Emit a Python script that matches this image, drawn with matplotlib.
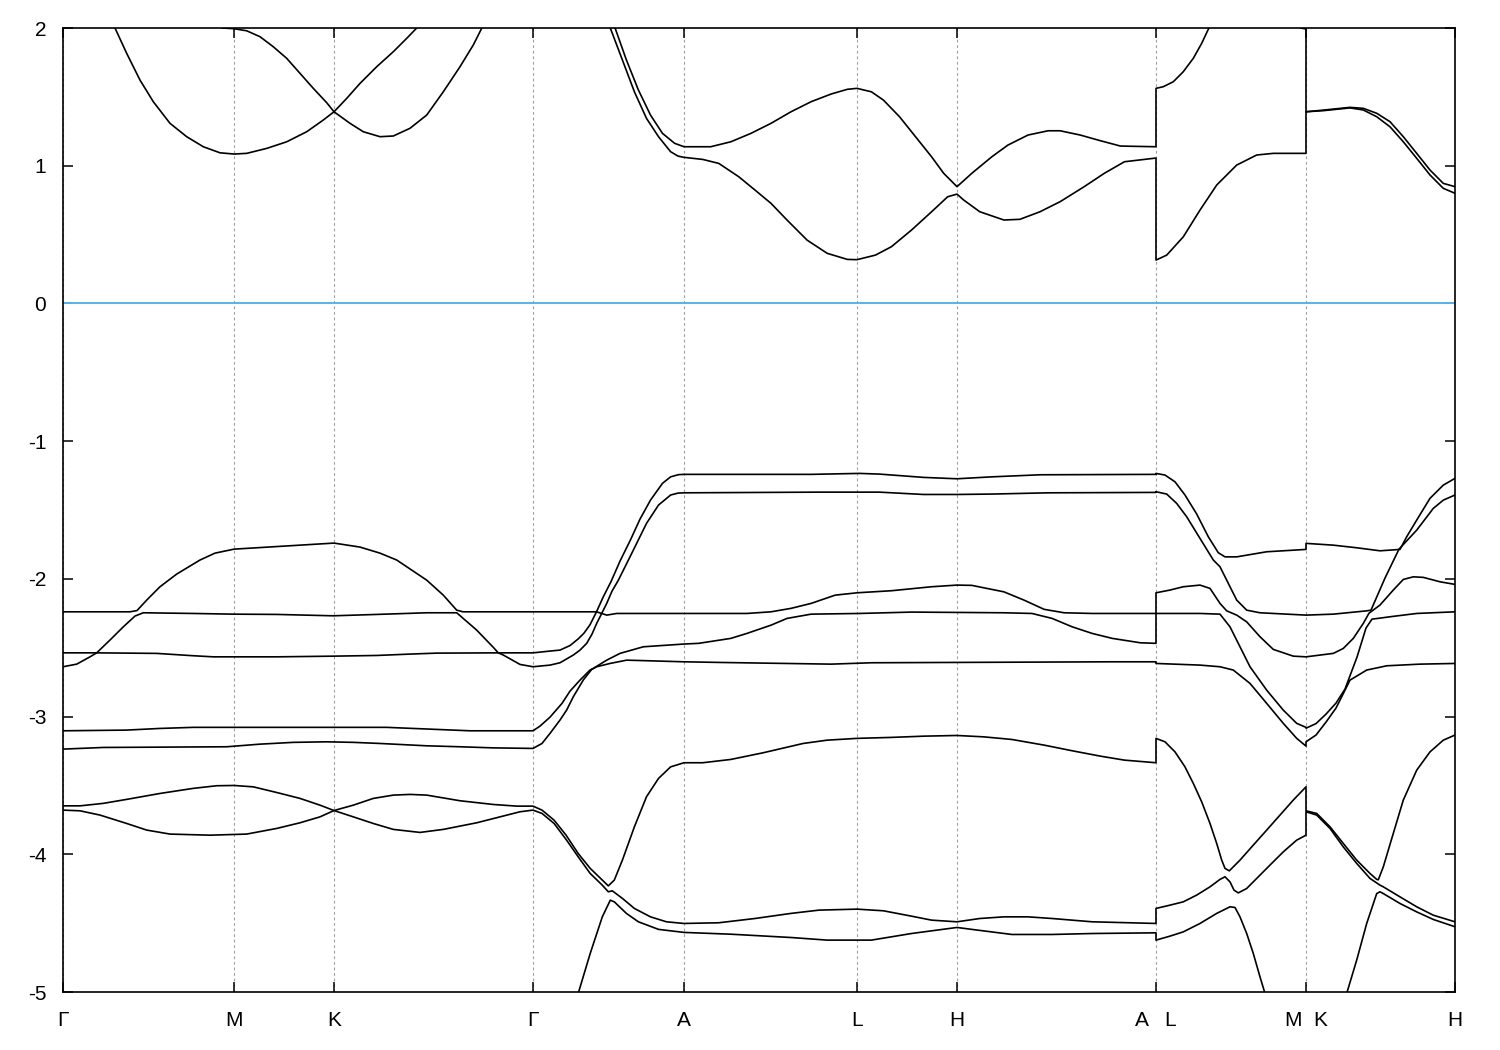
import numpy as np
import matplotlib
matplotlib.use('Agg')
import matplotlib.pyplot as plt

nan = np.nan

# high-symmetry points along the k-path (path length, arbitrary units)
sym_k = [0.0, 1.71, 2.71, 4.70, 6.21, 7.94, 8.94, 10.93, 12.43, 13.92]
sym_labels = ['Γ', 'M', 'K', 'Γ', 'A', 'L', 'H', 'A   L', 'M  K', 'H']

# conduction bands (eV)
c1_k = [0.45, 0.52, 0.637, 0.77, 0.903, 1.07, 1.237, 1.403, 1.57, 1.71, 1.837, 2.037, 2.237, 2.437, 2.603, 2.71,
        2.87, 3.003, 3.17, 3.303, 3.47, 3.637, 3.803, 3.97, 4.103, 4.187, 4.25, nan,
        5.42, 5.473, 5.594, 5.714, 5.835, 5.955, 6.076, 6.15, 6.21,
        6.397, 6.558, 6.758, 6.919, 7.08, 7.24, 7.441, 7.642, 7.843, 7.94, 8.124, 8.284, 8.485, 8.686, 8.847, 8.94,
        9.007, 9.168, 9.409, 9.569, 9.77, 9.971, 10.212, 10.413, 10.614, 10.93,
        10.93, 11.037, 11.203, 11.37, 11.537, 11.737, 11.937, 12.103, 12.43,
        12.43, 12.603, 12.87, 13.003, 13.137, 13.27, 13.403, 13.537, 13.67, 13.803, 13.92]
c1_e = [2.1, 2.0, 1.816, 1.622, 1.465, 1.308, 1.211, 1.138, 1.094, 1.085, 1.090, 1.126, 1.174, 1.247, 1.332, 1.392,
        1.308, 1.247, 1.211, 1.216, 1.272, 1.368, 1.537, 1.719, 1.877, 1.998, 2.1, nan,
        2.1, 2.0, 1.768, 1.537, 1.344, 1.211, 1.102, 1.07, 1.061,
        1.046, 1.017, 0.920, 0.824, 0.727, 0.606, 0.460, 0.364, 0.320, 0.318, 0.351, 0.412, 0.533, 0.666, 0.775, 0.794,
        0.751, 0.666, 0.606, 0.611, 0.666, 0.739, 0.848, 0.945, 1.029, 1.056,
        0.315, 0.351, 0.484, 0.678, 0.860, 1.005, 1.078, 1.090, 1.090,
        1.392, 1.400, 1.420, 1.405, 1.356, 1.283, 1.174, 1.054, 0.933, 0.836, 0.800]

c2_k = [1.45, 1.6, 1.71, 1.837, 1.97, 2.103, 2.237, 2.37, 2.503, 2.637, 2.71, 2.837, 2.97, 3.137, 3.303, 3.437,
        3.537, 3.6, nan,
        5.47, 5.521, 5.634, 5.754, 5.875, 5.995, 6.116, 6.21,
        6.477, 6.678, 6.879, 7.08, 7.28, 7.481, 7.682, 7.843, 7.94, 8.084, 8.204, 8.365, 8.525, 8.686, 8.807, 8.94,
        9.088, 9.288, 9.449, 9.65, 9.851, 9.971, 10.172, 10.373, 10.574, 10.93,
        10.93, 11.003, 11.103, 11.203, 11.303, 11.387, 11.453, 11.52, nan, 12.3, 12.38, 12.43,
        12.43, 12.603, 12.87, 13.003, 13.137, 13.27, 13.403, 13.537, 13.67, 13.803, 13.92]
c2_e = [2.05, 2.0, 1.995, 1.980, 1.937, 1.864, 1.780, 1.671, 1.562, 1.458, 1.392, 1.489, 1.598, 1.719, 1.828, 1.925,
        2.0, 2.06, nan,
        2.1, 2.0, 1.768, 1.55, 1.368, 1.235, 1.163, 1.138,
        1.138, 1.174, 1.235, 1.308, 1.392, 1.465, 1.521, 1.555, 1.562, 1.537, 1.477, 1.356, 1.211, 1.065, 0.945, 0.848,
        0.945, 1.065, 1.150, 1.223, 1.254, 1.254, 1.223, 1.182, 1.143, 1.138,
        1.562, 1.574, 1.610, 1.683, 1.780, 1.889, 1.991, 2.08, nan, 2.03, 2.0, 1.993,
        1.392, 1.404, 1.424, 1.417, 1.381, 1.320, 1.211, 1.090, 0.969, 0.872, 0.848]

# valence bands (eV), sorted from the top
v1_k = [0.0, 0.67, 0.74, 0.837, 0.97, 1.137, 1.37, 1.52, 1.71, 2.21, 2.71, 2.97, 3.17, 3.337, 3.637, 3.803, 3.937,
        4.0, 4.70,
        5.32, 5.335, 5.403, 5.48, 5.57, 5.674, 5.77, 5.875, 5.995, 6.076, 6.156, 6.21,
        7.481, 7.963, 8.164, 8.606, 8.94, 9.288, 9.77, 10.93,
        10.93, 11.02, 11.12, 11.22, 11.337, 11.453, 11.553, 11.62, 11.737, 12.037, 12.43,
        12.43, 12.703, 12.937, 13.17, 13.37, 13.437, 13.537, 13.67, 13.803, 13.92]
v1_e = [-2.239, -2.239, -2.230, -2.154, -2.057, -1.965, -1.863, -1.813, -1.784, -1.762, -1.740, -1.769, -1.813,
        -1.863, -2.009, -2.118, -2.227, -2.239, -2.239,
        -2.239, -2.239, -2.130, -2.020, -1.871, -1.718, -1.566, -1.428, -1.306, -1.259, -1.243, -1.241,
        -1.241, -1.234, -1.239, -1.263, -1.273, -1.259, -1.244, -1.241,
        -1.234, -1.246, -1.295, -1.391, -1.529, -1.694, -1.810, -1.840, -1.840, -1.803, -1.786,
        -1.742, -1.755, -1.774, -1.796, -1.786, -1.694, -1.573, -1.415, -1.319, -1.270]

v2_k = [0.0, 0.337, 0.47, 0.603, 0.72, 0.803, 1.303, 1.703, 2.137, 2.703, 3.137, 3.637, 3.937, 4.137, 4.303, 4.353,
        4.70,
        4.87, 4.97, 5.07, 5.15, 5.21, 5.27, 5.335, 5.387, 5.437, 5.49, 5.554, 5.674, 5.835, 5.955, 6.076, 6.15, 6.21,
        7.562, 8.164, 8.606, 8.94, 9.288, 9.851, 10.93,
        10.93, 11.037, 11.137, 11.237, 11.37, 11.503, 11.57, 11.67, 11.737, 11.837, 11.97, 12.43,
        12.43, 12.703, 13.037, 13.08, 13.22, 13.36, 13.537, 13.703, 13.803, 13.92]
v2_e = [-2.537, -2.537, -2.444, -2.348, -2.270, -2.246, -2.251, -2.256, -2.258, -2.268, -2.258, -2.246, -2.246,
        -2.372, -2.497, -2.537, -2.537,
        -2.524, -2.517, -2.484, -2.437, -2.394, -2.333, -2.239, -2.251, -2.178, -2.089, -2.009, -1.834, -1.597,
        -1.464, -1.391, -1.377, -1.375,
        -1.370, -1.370, -1.387, -1.387, -1.384, -1.375, -1.372,
        -1.367, -1.384, -1.452, -1.549, -1.706, -1.863, -1.912, -2.057, -2.154, -2.227, -2.246, -2.263,
        -2.263, -2.256, -2.232, -2.227, -1.994, -1.784, -1.646, -1.488, -1.428, -1.391]

v3_k = [0.0, 0.137, 0.27, 0.337, 0.937, 1.303, 1.503, 2.137, 2.703, 3.137, 3.47, 3.737, 4.353, 4.403, 4.57, 4.70,
        4.87, 4.97, 5.103, 5.17, 5.237, 5.29, 5.337, 5.387, 5.437, 5.537, 6.21,
        6.839, 7.08, 7.28, 7.481, 7.722, 7.94, 8.284, 8.686, 8.94, 9.088, 9.409, 9.61, 9.811, 10.011, 10.292, 10.93,
        10.93, 11.07, 11.203, 11.37, 11.47, 11.57, 11.637, 11.737, 11.837, 11.97, 12.103, 12.303, 12.43,
        12.43, 12.703, 12.803, 12.903, 13.003, 13.06, 13.17, 13.303, 13.403, 13.503, 13.603, 13.77, 13.92]
v3_e = [-2.638, -2.619, -2.566, -2.537, -2.541, -2.558, -2.566, -2.566, -2.561, -2.556, -2.546, -2.539, -2.537,
        -2.553, -2.621, -2.638,
        -2.626, -2.609, -2.553, -2.517, -2.468, -2.401, -2.323, -2.251, -2.263, -2.251, -2.251,
        -2.251, -2.239, -2.214, -2.178, -2.118, -2.101, -2.086, -2.057, -2.045, -2.047, -2.094, -2.154, -2.221,
        -2.246, -2.251, -2.251,
        -2.101, -2.081, -2.057, -2.045, -2.069, -2.178, -2.232, -2.263, -2.312, -2.420, -2.512, -2.561, -2.566,
        -2.566, -2.541, -2.505, -2.432, -2.323, -2.249, -2.190, -2.081, -2.004, -1.985, -1.989, -2.021, -2.040]

v4_k = [0.0, 0.633, 0.967, 1.303, 2.703, 3.237, 3.637, 4.07, 4.70,
        4.77, 4.87, 4.99, 5.07, 5.17, 5.27, 5.303, 5.437, 5.57, 5.803, 6.21,
        6.357, 6.678, 6.839, 7.08, 7.24, 7.481, 7.963, 8.485, 9.409, 9.69, 9.891, 10.092, 10.292, 10.493, 10.774,
        10.93,
        10.93, 11.37, 11.57, 11.67, 11.77, 11.87, 12.037, 12.203, 12.337, 12.43,
        12.43, 12.53, 12.63, 12.73, 12.82, 12.94, 13.03, 13.09, 13.17, 13.27, 13.537, 13.92]
v4_e = [-3.103, -3.098, -3.086, -3.078, -3.078, -3.078, -3.090, -3.103, -3.103,
        -3.069, -3.004, -2.904, -2.815, -2.735, -2.662, -2.650, -2.590, -2.541, -2.493, -2.473,
        -2.468, -2.432, -2.396, -2.336, -2.287, -2.256, -2.251, -2.241, -2.246, -2.251, -2.287, -2.348, -2.396,
        -2.432, -2.464, -2.468,
        -2.251, -2.251, -2.256, -2.348, -2.493, -2.638, -2.808, -2.953, -3.049, -3.078,
        -3.084, -3.051, -2.982, -2.902, -2.800, -2.568, -2.357, -2.292, -2.285, -2.275, -2.251, -2.239]

v5_k = [0.0, 0.403, 1.637, 1.97, 2.303, 2.637, 2.903, 3.17, 3.637, 3.97, 4.303, 4.70,
        4.79, 4.87, 4.97, 5.037, 5.103, 5.203, 5.287, 5.337, 5.47, 5.637, 6.21,
        6.598, 7.682, 8.084, 10.493, 10.93,
        10.93, 11.37, 11.57, 11.703, 11.87, 12.037, 12.203, 12.337, 12.43,
        12.43, 12.53, 12.63, 12.73, 12.82, 12.87, 13.037, 13.237, 13.57, 13.92]
v5_e = [-3.236, -3.224, -3.219, -3.200, -3.187, -3.183, -3.187, -3.195, -3.212, -3.219, -3.227, -3.231,
        -3.195, -3.122, -3.025, -2.952, -2.856, -2.734, -2.657, -2.638, -2.614, -2.590, -2.602,
        -2.607, -2.619, -2.609, -2.602, -2.602,
        -2.614, -2.626, -2.638, -2.662, -2.759, -2.904, -3.049, -3.158, -3.214,
        -3.183, -3.134, -3.040, -2.938, -2.808, -2.735, -2.662, -2.631, -2.619, -2.614]

v6_k = [0.0, 0.17, 0.403, 0.637, 0.97, 1.303, 1.537, 1.71, 1.903, 2.137, 2.37, 2.57, 2.71, 2.903, 3.103, 3.303,
        3.47, 3.637, 3.97, 4.303, 4.537, 4.70,
        4.79, 4.911, 5.031, 5.152, 5.272, 5.393, 5.453, 5.513, 5.594, 5.714, 5.835, 5.955, 6.076, 6.21,
        6.397, 6.678, 6.999, 7.401, 7.642, 7.94, 8.284, 8.606, 8.94, 9.208, 9.489, 9.811, 10.092, 10.373, 10.614,
        10.93,
        10.93, 11.02, 11.12, 11.22, 11.303, 11.387, 11.47, 11.537, 11.587, 11.62, 11.663, 11.77, 11.903, 12.037,
        12.17, 12.303, 12.43,
        12.43, 12.537, 12.67, 12.803, 12.937, 13.07, 13.137, 13.153, 13.203, 13.303, 13.403, 13.537, 13.67, 13.803,
        13.92]
v6_e = [-3.648, -3.648, -3.630, -3.601, -3.558, -3.521, -3.502, -3.500, -3.510, -3.551, -3.594, -3.643, -3.682,
        -3.643, -3.594, -3.570, -3.565, -3.570, -3.611, -3.638, -3.650, -3.650,
        -3.679, -3.752, -3.861, -3.994, -4.102, -4.187, -4.229, -4.187, -4.042, -3.800, -3.582, -3.449, -3.365,
        -3.335,
        -3.335, -3.311, -3.263, -3.195, -3.171, -3.158, -3.151, -3.142, -3.137, -3.147, -3.166, -3.207, -3.248,
        -3.287, -3.316, -3.335,
        -3.158, -3.183, -3.256, -3.365, -3.485, -3.619, -3.776, -3.921, -4.042, -4.102, -4.120, -4.042, -3.933,
        -3.824, -3.715, -3.606, -3.510,
        -3.684, -3.703, -3.800, -3.921, -4.042, -4.139, -4.182, -4.185, -4.091, -3.848, -3.606, -3.389, -3.256,
        -3.171, -3.134]

v7_k = [0.0, 0.17, 0.37, 0.637, 0.837, 1.07, 1.47, 1.837, 2.137, 2.37, 2.57, 2.71, 2.903, 3.103, 3.303, 3.57,
        3.803, 4.137, 4.37, 4.57, 4.70,
        4.79, 4.911, 5.031, 5.152, 5.272, 5.393, 5.453, 5.493, 5.594, 5.714, 5.875, 6.035, 6.21,
        6.558, 6.919, 7.28, 7.562, 7.94, 8.204, 8.485, 8.686, 8.94, 9.168, 9.409, 9.65, 9.891, 10.292, 10.93,
        10.93, 11.07, 11.203, 11.337, 11.47, 11.57, 11.62, 11.67, 11.71, 11.753, 11.837, 11.937, 12.07, 12.203,
        12.337, 12.43,
        12.43, 12.537, 12.67, 12.803, 12.937, 13.07, 13.17, 13.203, 13.37, 13.537, 13.703, 13.92]
v7_e = [-3.679, -3.684, -3.715, -3.776, -3.824, -3.853, -3.861, -3.853, -3.812, -3.771, -3.728, -3.682, -3.728,
        -3.776, -3.819, -3.841, -3.819, -3.771, -3.728, -3.691, -3.679,
        -3.703, -3.776, -3.892, -4.018, -4.139, -4.224, -4.272, -4.265, -4.320, -4.393, -4.454, -4.490, -4.502,
        -4.497, -4.466, -4.429, -4.405, -4.398, -4.410, -4.449, -4.478, -4.490, -4.466, -4.454, -4.454, -4.466,
        -4.490, -4.502,
        -4.393, -4.369, -4.345, -4.296, -4.236, -4.182, -4.163, -4.200, -4.260, -4.280, -4.248, -4.175, -4.078,
        -3.982, -3.897, -3.861,
        -3.691, -3.715, -3.812, -3.946, -4.066, -4.175, -4.224, -4.236, -4.309, -4.381, -4.442, -4.490]

v8_k = [5.05, 5.152, 5.272, 5.393, 5.473, 5.513, 5.634, 5.754, 5.955, 6.21,
        6.678, 7.28, 7.642, 8.084, 8.485, 8.94, 9.088, 9.489, 9.891, 10.292, 10.93,
        10.93, 11.07, 11.203, 11.37, 11.537, 11.67, 11.72, 11.77, 11.837, 11.903, 11.97, 12.02, 12.06, nan,
        12.78, 12.837, 12.937, 13.037, 13.137, 13.17, 13.203, 13.37, 13.537, 13.703, 13.92]
v8_e = [-5.25, -5.01, -4.720, -4.454, -4.333, -4.345, -4.429, -4.490, -4.545, -4.567,
        -4.580, -4.604, -4.623, -4.623, -4.575, -4.531, -4.545, -4.582, -4.582, -4.575, -4.570,
        -4.623, -4.594, -4.563, -4.502, -4.429, -4.381, -4.386, -4.454, -4.575, -4.720, -4.890, -5.01, -5.12, nan,
        -5.15, -5.01, -4.768, -4.502, -4.285, -4.272, -4.285, -4.357, -4.418, -4.473, -4.526]

bands = [(c1_k, c1_e), (c2_k, c2_e), (v1_k, v1_e), (v2_k, v2_e), (v3_k, v3_e), (v4_k, v4_e),
         (v5_k, v5_e), (v6_k, v6_e), (v7_k, v7_e), (v8_k, v8_e)]

plt.rcParams['font.family'] = ['Liberation Sans', 'DejaVu Sans']

fig = plt.figure(figsize=(15, 10.5), dpi=100)
ax = fig.add_axes([0.042, 0.0552, 0.928, 0.9181])

# Fermi level
ax.axhline(0, color='#56b4e9', lw=1.4, zorder=2)

for k, e in bands:
    ax.plot(k, e, color='black', lw=1.2, zorder=3,
            solid_joinstyle='round', solid_capstyle='round')

ax.set_xlim(sym_k[0], sym_k[-1])
ax.set_ylim(-5, 2)

ax.set_xticks(sym_k)
ax.set_xticklabels(sym_labels)
yt = list(range(-5, 3))
ax.set_yticks(yt)
ax.set_yticklabels([str(v) for v in yt])

ax.grid(axis='x', color='#a0a0a0', linestyle=(0, (2.5, 2.5)), linewidth=0.8, zorder=1)
ax.set_axisbelow(True)

ax.tick_params(axis='both', direction='in', length=7, width=1.1, top=True, right=True, labelsize=15)
ax.tick_params(axis='x', pad=14)
ax.tick_params(axis='y', pad=12)
for s in ax.spines.values():
    s.set_linewidth(1.2)

fig.savefig('out.png', dpi=100)
